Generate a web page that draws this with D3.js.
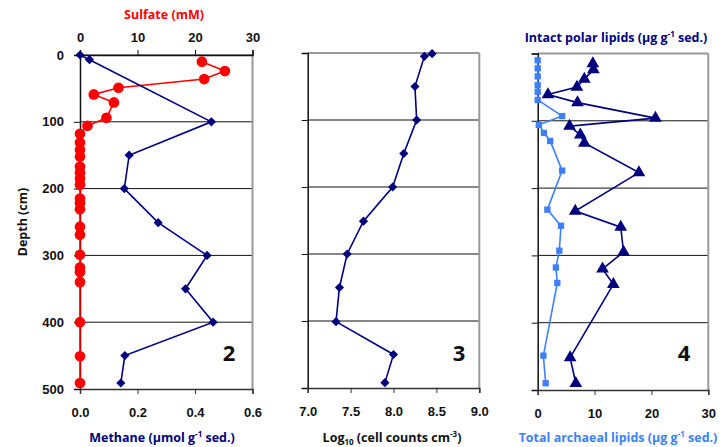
<!DOCTYPE html>
<html>
<head>
<meta charset="utf-8">
<script src="https://cdn.jsdelivr.net/npm/d3@7"></script>
<style>
  html, body { margin: 0; padding: 0; background: #fff; }
  svg { display: block; font-family: "Open Sans", "Noto Sans", sans-serif; }
  .tick text { font-weight: 700; font-size: 13px; fill: #111; }
  .ttl { font-weight: 700; font-size: 12.5px; }
  .pnum { font-weight: 700; font-size: 22px; fill: #111; }
</style>
</head>
<body>
<svg id="chart" width="726" height="447"></svg>
<script>
/* Three depth profiles side by side: methane + sulfate, cell counts, lipids.
   Depth runs down, each panel has its own x scale. */

// ----- data -----
const depthTicks = [0, 100, 200, 300, 400, 500];

const methaneDepth = [0, 7, 100, 150, 200, 251, 300, 350, 400, 450, 491];
const methane = [0.0, 0.033, 0.457, 0.171, 0.154, 0.272, 0.442, 0.367, 0.463, 0.156, 0.142];

const sulfateDepth = [10, 24, 36, 49, 59, 71, 94, 106, 118, 131, 142, 152, 167, 176, 185, 194,
  215, 222, 231, 257, 269, 299, 318, 325, 340, 400, 451, 491];
const sulfate = [21.2, 25.2, 21.6, 6.7, 2.4, 5.9, 4.6, 1.3, 0, 0, 0, 0, 0, 0, 0, 0,
  0, 0, 0, 0, 0, 0, 0, 0, 0, 0, 0, 0];

const cellDepth = [1, 5, 50, 100, 150, 200, 251, 300, 350, 401, 450, 492];
const cells = [8.45, 8.36, 8.25, 8.27, 8.12, 7.99, 7.65, 7.46, 7.37, 7.33, 8.00, 7.90];

const archDepth = [10, 22, 34, 47, 57, 69, 93, 106, 118, 130, 174, 232, 256, 293, 318, 341, 449, 490];
const archaeal = [0, 0, 0, 0, 0, 0, 4.3, 0.2, 1.1, 2.2, 4.3, 1.7, 4.1, 3.8, 3.2, 3.45, 1.0, 1.4];

const iplDepth = [15, 24, 38, 50, 61, 73, 96, 108, 121, 133, 177, 234, 258, 295, 320, 343, 452, 490];
const ipl = [9.7, 9.8, 8.2, 6.9, 1.8, 7.0, 20.7, 5.6, 7.5, 8.2, 17.8, 6.6, 14.6, 15.1, 11.4, 13.3, 5.7, 6.7];

const methaneTicks = [0, 0.2, 0.4, 0.6];
const sulfateTicks = [0, 10, 20, 30];
const cellTicks = [7.0, 7.5, 8.0, 8.5, 9.0];
const lipidTicks = [0, 10, 20, 30];

const NAVY = "#00007f", RED = "#ff0000", LBLUE = "#3d7fff";

const svg = d3.select("#chart");

// ----- helpers -----
function frame(x0, x1, y) {
  const g = svg.append("g");
  // grid
  g.selectAll("line.grid").data([100, 200, 300, 400]).join("line")
    .attr("x1", x0).attr("x2", x1).attr("y1", (d) => y(d)).attr("y2", (d) => y(d))
    .attr("stroke", "#111").attr("stroke-width", 1);
  // right + top border in grey
  g.append("line").attr("x1", x1).attr("x2", x1).attr("y1", y(0)).attr("y2", y(500))
    .attr("stroke", "#999").attr("stroke-width", 2);
  g.append("line").attr("x1", x0).attr("x2", x1).attr("y1", y(0)).attr("y2", y(0))
    .attr("stroke", "#999").attr("stroke-width", 2);
  return g;
}
function leftAxis(x0, y, labels) {
  const ax = d3.axisLeft(y).tickValues(depthTicks).tickSize(6).tickPadding(10)
    .tickFormat(labels ? d3.format("d") : () => "");
  const g = svg.append("g").attr("transform", `translate(${x0},0)`).call(ax);
  g.select(".domain").attr("stroke", "#111").attr("stroke-width", 1.5);
  g.selectAll(".tick line").attr("stroke", "#111");
  return g;
}
function bottomAxis(x, ybot, ticks, fmt) {
  const g = svg.append("g").attr("transform", `translate(0,${ybot})`)
    .call(d3.axisBottom(x).tickValues(ticks).tickSize(5).tickPadding(14).tickFormat(fmt));
  g.select(".domain").attr("stroke", "#333").attr("stroke-width", 1.5);
  g.selectAll(".tick line").attr("stroke", "#333");
  return g;
}
function series(xs, ys, x, y, color, sym, size, rot) {
  const pts = xs.map((v, i) => [x(v), y(ys[i])]);
  svg.append("path").attr("d", d3.line()(pts)).attr("fill", "none")
    .attr("stroke", color).attr("stroke-width", 1.6);
  svg.append("g").selectAll("path").data(pts).join("path")
    .attr("transform", (p) => `translate(${p[0]},${p[1]})` + (rot ? ` rotate(${rot})` : ""))
    .attr("d", d3.symbol(sym, size)).attr("fill", color);
}
function title(x, y, parts, color) {
  const t = svg.append("text").attr("class", "ttl").attr("x", x).attr("y", y)
    .attr("text-anchor", "middle").attr("fill", color);
  parts.forEach(([s, kind]) => {
    const ts = t.append("tspan").text(s);
    if (kind === "sup") ts.attr("font-size", "8px").attr("baseline-shift", "5px");
    if (kind === "sub") ts.attr("font-size", "8px").attr("baseline-shift", "-3px");
  });
}

// ----- panel 2: methane + sulfate -----
const y1 = d3.scaleLinear().domain([0, 500]).range([55, 389]);
const xMeth = d3.scaleLinear().domain([0, 0.6]).range([80, 252.5]);
const xSulf = d3.scaleLinear().domain([0, 30]).range([80, 252.5]);
frame(80, 252.5, y1);
leftAxis(80, y1, true);
bottomAxis(xMeth, 389, methaneTicks, d3.format(".1f"));
const topAx = svg.append("g").attr("transform", "translate(0,55)")
  .call(d3.axisTop(xSulf).tickValues(sulfateTicks).tickSize(5).tickPadding(8).tickFormat(d3.format("d")));
topAx.select(".domain").attr("stroke", "#111").attr("stroke-width", 1.5);
topAx.selectAll(".tick line").attr("stroke", "#111");
series(sulfate, sulfateDepth, xSulf, y1, RED, d3.symbolCircle, 90, 0);
series(methane, methaneDepth, xMeth, y1, NAVY, d3.symbolSquare, 42, 45);
title(164, 19, [["Sulfate (mM)"]], RED);
title(162, 442, [["Methane (µmol g"], ["-1", "sup"], [" sed.)"]], NAVY);
svg.append("text").attr("class", "ttl").attr("transform", "translate(27,222) rotate(-90)")
  .attr("text-anchor", "middle").attr("fill", "#111").attr("font-size", "13px").text("Depth (cm)");
svg.append("text").attr("class", "pnum").attr("x", 229).attr("y", 361).attr("text-anchor", "middle").text("2");

// ----- panel 3: cell counts -----
const y2 = d3.scaleLinear().domain([0, 500]).range([53, 388]);
const xCell = d3.scaleLinear().domain([7, 9]).range([307.7, 479.3]);
frame(307.7, 479.3, y2);
leftAxis(307.7, y2, false);
bottomAxis(xCell, 388, cellTicks, d3.format(".1f"));
series(cells, cellDepth, xCell, y2, NAVY, d3.symbolSquare, 42, 45);
title(392, 442, [["Log"], ["10", "sub"], [" (cell counts cm"], ["-3", "sup"], [")"]], "#111");
svg.append("text").attr("class", "pnum").attr("x", 459).attr("y", 361).attr("text-anchor", "middle").text("3");

// ----- panel 4: lipids -----
const y3 = d3.scaleLinear().domain([0, 500]).range([53.5, 390]);
const xLip = d3.scaleLinear().domain([0, 30]).range([537.7, 708.3]);
frame(537.7, 708.3, y3);
leftAxis(537.7, y3, false);
bottomAxis(xLip, 390, lipidTicks, d3.format("d"));
series(archaeal, archDepth, xLip, y3, LBLUE, d3.symbolSquare, 40, 0);
series(ipl, iplDepth, xLip, y3, NAVY, d3.symbolTriangle, 70, 0);
title(616, 42, [["Intact polar lipids (µg g"], ["-1", "sup"], [" sed.)"]], NAVY);
title(618, 442, [["Total archaeal lipids (µg g"], ["-1", "sup"], [" sed.)"]], LBLUE);
svg.append("text").attr("class", "pnum").attr("x", 684).attr("y", 361).attr("text-anchor", "middle").text("4");
</script>
</body>
</html>
